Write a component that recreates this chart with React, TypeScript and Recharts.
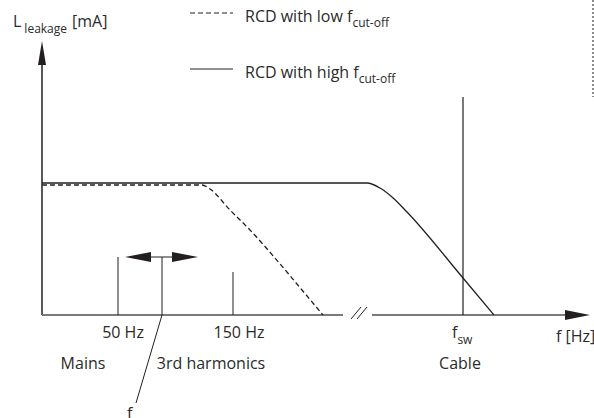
import React from "react";
import { Legend, Line, LineChart, ReferenceDot, ReferenceLine, XAxis, YAxis } from "recharts";

// schematic units, the axes cross at (0, 0)
const lowCutoffX = [0, 160, 168, 188, 208, 233, 260, 281];
const lowCutoffY = [130, 130, 126, 105, 85, 57, 25, 0];
const highCutoffX = [0, 325, 338, 350, 365, 421, 452];
const highCutoffY = [132, 132, 127, 118, 103, 37, 0];

const seriesNames = ["RCD with low", "RCD with high"];

const harmonicX = [76, 191];
const harmonicHeight = [58, 43];
const harmonicLabels = ["50 Hz", "150 Hz"];

const fcX = 120;
const fcHeight = 58;
const fcSpan = [83, 156];
const fcLabelAt = [94, -88];

const fswX = 421;
const fswHeight = 218;

const bandLabels = ["Mains", "3rd harmonics", "Cable"];
const bandX = [41, 169, 418];

const axisBreak = [301, 330];
const xAxisEnd = 548;
const yAxisEnd = 274;

const FONT = "'Open Sans', sans-serif";
const INK = "#231f20";
const TEXT = "#2b2b2b";

const lowData = lowCutoffX.map((x, i) => ({ x, y: lowCutoffY[i] }));
const highData = highCutoffX.map((x, i) => ({ x, y: highCutoffY[i] }));

const note =
  (text: string, sub?: string, after?: string, anchor: "start" | "middle" | "end" = "middle") =>
  (p: any) => (
    <text x={p.cx} y={p.cy} textAnchor={anchor} fontFamily={FONT} fontSize={16} fill={TEXT}>
      {text}
      {sub ? (
        <tspan dy={6} dx={sub.startsWith(" ") ? 3 : 0} fontSize={12}>
          {sub.trim()}
        </tspan>
      ) : null}
      {after ? (
        <tspan dy={-6} dx={5}>
          {after}
        </tspan>
      ) : null}
    </text>
  );

const arrow = (dir: "up" | "left" | "right", len: number, half: number) => (p: any) => {
  const { cx, cy } = p;
  let pts = "";
  if (dir === "up") pts = `${cx},${cy} ${cx - half},${cy + len} ${cx + half},${cy + len}`;
  if (dir === "left") pts = `${cx},${cy} ${cx + len},${cy - half} ${cx + len},${cy + half}`;
  if (dir === "right") pts = `${cx},${cy} ${cx - len},${cy - half} ${cx - len},${cy + half}`;
  return <polygon points={pts} fill={INK} />;
};

const renderLegend = (props: any) => {
  const payload = [...(props.payload || [])].sort(
    (a: any, b: any) => seriesNames.indexOf(a.value) - seriesNames.indexOf(b.value)
  );
  return (
    <div style={{ fontFamily: FONT, fontSize: 16, color: TEXT }}>
      {payload.map((entry: any, i: number) => (
        <div key={i} style={{ display: "flex", alignItems: "center", height: 22, marginTop: i ? 34 : 0 }}>
          <svg width={43} height={22} style={{ marginRight: 12 }}>
            <line
              x1={0}
              x2={43}
              y1={8}
              y2={8}
              stroke={INK}
              strokeWidth={1}
              strokeDasharray={entry.payload?.strokeDasharray}
            />
          </svg>
          <span>
            {entry.value} f
            <span style={{ fontSize: 12, position: "relative", top: 5 }}>cut-off</span>
          </span>
        </div>
      ))}
    </div>
  );
};

export default function App() {
  return (
    <div style={{ position: "absolute", left: 0, top: 0, width: 594, height: 418, background: "#fff" }}>
      <LineChart width={594} height={418} margin={{ top: 0, right: 0, bottom: 0, left: 0 }}>
        <XAxis type="number" dataKey="x" domain={[-42, 552]} allowDataOverflow hide />
        <YAxis type="number" dataKey="y" domain={[-103, 315]} allowDataOverflow hide />
        <Legend
          layout="horizontal"
          verticalAlign="middle"
          align="center"
          wrapperStyle={{ position: "absolute", left: 190, top: 5, width: 360, height: 80 }}
          content={renderLegend}
        />

        {/* axes */}
        <ReferenceLine segment={[{ x: 0, y: 0 }, { x: 0, y: yAxisEnd - 24 }]} stroke={INK} strokeWidth={1.5} />
        <ReferenceDot x={0} y={yAxisEnd} shape={arrow("up", 24, 4)} />
        <ReferenceLine segment={[{ x: 0, y: 0 }, { x: axisBreak[0], y: 0 }]} stroke="#7a7a7a" strokeWidth={2} />
        <ReferenceLine segment={[{ x: axisBreak[1], y: 0 }, { x: xAxisEnd - 25, y: 0 }]} stroke="#7a7a7a" strokeWidth={2} />
        <ReferenceDot x={xAxisEnd} y={0} shape={arrow("right", 25, 5)} />
        <ReferenceLine segment={[{ x: axisBreak[0] + 8, y: -4 }, { x: axisBreak[0] + 18, y: 8 }]} stroke={INK} strokeWidth={1} />
        <ReferenceLine segment={[{ x: axisBreak[0] + 14, y: -4 }, { x: axisBreak[0] + 24, y: 8 }]} stroke={INK} strokeWidth={1} />

        {/* spectral lines */}
        {harmonicX.map((x, i) => (
          <ReferenceLine key={"h" + i} segment={[{ x, y: 0 }, { x, y: harmonicHeight[i] }]} stroke={INK} strokeWidth={1} />
        ))}
        <ReferenceLine segment={[{ x: fcX, y: 0 }, { x: fcX, y: fcHeight }]} stroke={INK} strokeWidth={1} />
        <ReferenceLine segment={[{ x: fcSpan[0] + 20, y: fcHeight }, { x: fcSpan[1] - 20, y: fcHeight }]} stroke={INK} strokeWidth={1} />
        <ReferenceDot x={fcSpan[0]} y={fcHeight} shape={arrow("left", 26, 5)} />
        <ReferenceDot x={fcSpan[1]} y={fcHeight} shape={arrow("right", 26, 5)} />
        <ReferenceLine segment={[{ x: fcX, y: 0 }, { x: fcLabelAt[0], y: fcLabelAt[1] }]} stroke={INK} strokeWidth={1} />
        <ReferenceLine segment={[{ x: fswX, y: 0 }, { x: fswX, y: fswHeight }]} stroke={INK} strokeWidth={1.2} />
        <ReferenceLine
          segment={[{ x: 551, y: 315 }, { x: 551, y: 218 }]}
          stroke="#666"
          strokeWidth={1.5}
          strokeDasharray="2 2"
        />

        <Line
          data={lowData}
          dataKey="y"
          name={seriesNames[0]}
          type="monotone"
          stroke={INK}
          strokeWidth={1.3}
          strokeDasharray="5 3"
          dot={false}
          activeDot={false}
          isAnimationActive={false}
        />
        <Line
          data={highData}
          dataKey="y"
          name={seriesNames[1]}
          type="monotone"
          stroke={INK}
          strokeWidth={1.3}
          dot={false}
          activeDot={false}
          isAnimationActive={false}
        />

        {/* texts */}
        <ReferenceDot x={-29} y={288} shape={note("L", " leakage", "[mA]", "start")} />
        {harmonicLabels.map((t, i) => (
          <ReferenceDot key={"t" + i} x={harmonicX[i] + (i ? 6 : 5)} y={-23} shape={note(t)} />
        ))}
        <ReferenceDot x={fswX - 11} y={-23} shape={note("f", "sw", undefined, "start")} />
        <ReferenceDot x={514} y={-27} shape={note("f [Hz]", undefined, undefined, "start")} />
        {bandLabels.map((t, i) => (
          <ReferenceDot key={"b" + i} x={bandX[i]} y={-54} shape={note(t)} />
        ))}
        <ReferenceDot x={fcLabelAt[0] - 9} y={-104} ifOverflow="visible" shape={note("f", "c", undefined, "start")} />
      </LineChart>
    </div>
  );
}
